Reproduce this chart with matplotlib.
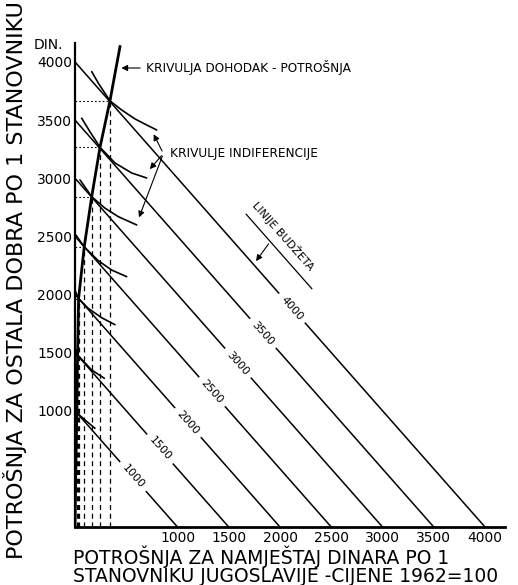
#!/usr/bin/env python3
# -*- coding: utf-8 -*-
"""Income-consumption curve with budget lines and indifference curves."""

import numpy as np
import matplotlib as mpl
import matplotlib.pyplot as plt

mpl.rcParams["font.family"] = ["DejaVu Sans"]
mpl.rcParams["axes.unicode_minus"] = False

# =======================
# Data (dinars per inhabitant)
# =======================
INCOMES = [1000, 1500, 2000, 2500, 3000, 3500, 4000]
LABEL_X = [566, 829, 1102, 1337, 1590, 1834, 2117]   # where the line label sits

# tangency points (income-consumption curve meets each budget line)
TAN_X = [18, 25, 35, 90, 163, 244, 341]
TAN_Y = [982, 1480, 1965, 2410, 2841, 3266, 3665]

# income-consumption curve
ICC_X = [0, 8, 18, 25, 35, 90, 163, 244, 341, 439]
ICC_Y = [0, 500, 982, 1480, 1965, 2410, 2841, 3266, 3665, 4132]

# indifference curves (short arcs around each tangency)
IC_X = [
    [3, 18, 98, 195],
    [5, 25, 163, 286],
    [0, 35, 130, 260, 390],
    [10, 90, 228, 358, 504],
    [49, 163, 293, 423, 602],
    [65, 146, 244, 390, 553, 699],
    [163, 228, 341, 455, 585, 699, 797],
]
IC_Y = [
    [1010, 982, 920, 849],
    [1530, 1480, 1350, 1279],
    [2035, 1965, 1880, 1800, 1740],
    [2510, 2410, 2290, 2210, 2153],
    [2985, 2841, 2742, 2669, 2598],
    [3516, 3400, 3266, 3131, 3045, 3002],
    [3917, 3817, 3665, 3587, 3510, 3458, 3415],
]

TICKS = [1000, 1500, 2000, 2500, 3000, 3500, 4000]
TICK_LABELS = [str(t) for t in TICKS]

XLIM = (0, 4195)
YLIM = (0, 4163)
GAP = 130

# =======================
# Figure
# =======================
W, H = 518, 585
fig = plt.figure(figsize=(W / 100, H / 100), dpi=100)
ax = fig.add_axes([75 / W, 58 / H, 430 / W, 484 / H])
ax.set_xlim(*XLIM)
ax.set_ylim(*YLIM)

for s in ["top", "right"]:
    ax.spines[s].set_visible(False)
ax.spines["left"].set_linewidth(1.6)
ax.spines["bottom"].set_linewidth(2.0)

ax.set_xticks(TICKS)
ax.set_xticklabels(TICK_LABELS)
ax.set_yticks(TICKS)
ax.set_yticklabels(TICK_LABELS)
ax.tick_params(axis="both", length=0, labelsize=10)
ax.tick_params(axis="x", pad=3)
ax.tick_params(axis="y", pad=2)

# angle of the budget lines on screen
p0 = ax.transData.transform((0, 1000))
p1 = ax.transData.transform((1000, 0))
ang = np.degrees(np.arctan2(p1[1] - p0[1], p1[0] - p0[0]))

# budget lines, broken where the label sits
for inc, lx in zip(INCOMES, LABEL_X):
    ax.plot([0, lx - GAP], [inc, inc - (lx - GAP)], color="black", lw=1.1)
    ax.plot([lx + GAP, inc], [inc - (lx + GAP), 0], color="black", lw=1.1)
    ax.text(lx, inc - lx, str(inc), rotation=ang, rotation_mode="anchor",
            ha="center", va="center", fontsize=8)

# guide lines to the tangency points
for tx, ty in zip(TAN_X, TAN_Y):
    ax.plot([tx, tx], [0, ty], color="black", lw=0.9, ls=(0, (4, 3)))
    ax.plot([0, tx], [ty, ty], color="black", lw=0.8, ls=(0, (1.5, 2)))

# indifference curves
for xs, ys in zip(IC_X, IC_Y):
    ax.plot(xs, ys, color="black", lw=1.2, solid_capstyle="round")

# income-consumption curve
ax.plot(ICC_X, ICC_Y, color="black", lw=2.0)

# annotations
arrow_kw = dict(arrowstyle="-|>", color="black", lw=0.8, mutation_scale=9)
ax.annotate("KRIVULJA DOHODAK - POTROŠNJA", xy=(425, 3948), xytext=(690, 3948),
            fontsize=8.7, va="center", ha="left", arrowprops=arrow_kw)

for tgt in [(755, 3400), (712, 3060), (615, 2640)]:
    ax.annotate("", xy=tgt, xytext=(862, 3212), arrowprops=arrow_kw)
ax.text(930, 3212, "KRIVULJE INDIFERENCIJE", fontsize=8.7, va="center", ha="left")

ax.text(1985, 2470, "LINIJE BUDŽETA", rotation=ang, rotation_mode="anchor",
        ha="center", va="bottom", fontsize=8)
ax.plot([1670, 2310], [2690, 2050], color="black", lw=0.9)
ax.annotate("", xy=(1750, 2268), xytext=(1905, 2455), arrowprops=arrow_kw)

# axis titles
fig.text(48 / W, 1 - 45 / H, "DIN.", fontsize=10, ha="center", va="center")
fig.text(15 / W, 1 - 280 / H, "POTROŠNJA ZA OSTALA DOBRA PO 1 STANOVNIKU",
         rotation=90, fontsize=16, ha="center", va="center")
fig.text(73 / W, 1 - 557 / H, "POTROŠNJA ZA NAMJEŠTAJ DINARA PO 1",
         fontsize=13.5, ha="left", va="center")
fig.text(73 / W, 1 - 577 / H, "STANOVNIKU JUGOSLAVIJE -CIJENE 1962=100",
         fontsize=13.5, ha="left", va="center")

fig.savefig("out.png", dpi=100)
